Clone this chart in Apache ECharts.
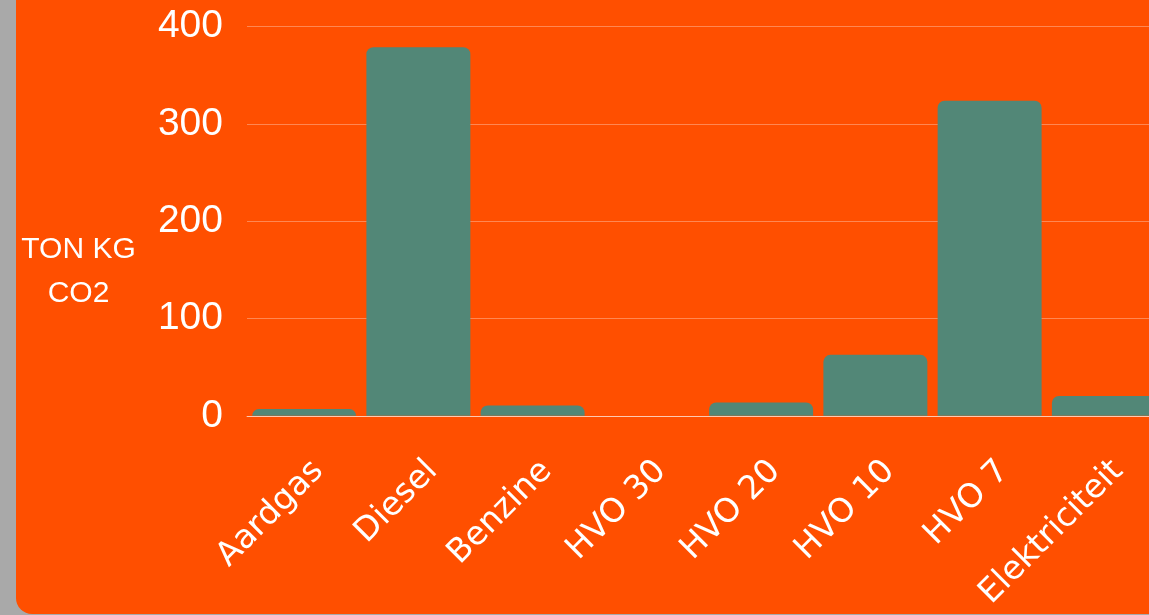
<!DOCTYPE html>
<html>
<head>
<meta charset="utf-8">
<script src="https://cdn.jsdelivr.net/npm/echarts@6/dist/echarts.min.js"></script>
<style>
  html, body { margin: 0; padding: 0; width: 1149px; height: 615px; overflow: hidden; background: #A9A9A9; }
  #panel { position: absolute; left: 16px; top: -20px; width: 1200px; height: 634px; background: #FF4F00; border-bottom-left-radius: 16px; }
  #chart { position: absolute; left: 0; top: 0; width: 1170px; height: 615px; }
</style>
</head>
<body>
<div id="panel"></div>
<div id="chart"></div>
<script>
const categories = ['Aardgas', 'Diesel', 'Benzine', 'HVO 30', 'HVO 20', 'HVO 10', 'HVO 7', 'Elektriciteit'];
const emissions = [6.9, 379, 10.6, 0, 13.7, 62.7, 324, 20.5];
const yTitleLines = ['TON KG', 'CO2'];

const titleFont = '30px "Liberation Sans", Arial, sans-serif';
const chart = echarts.init(document.getElementById('chart'), null, { renderer: 'canvas' });
chart.setOption({
  backgroundColor: 'transparent',
  animation: false,
  grid: { left: 247, right: 9, top: 26.7, bottom: 199, containLabel: false },
  graphic: yTitleLines.map((t, i) => ({
    type: 'text',
    x: 78.5, y: 250 + i * 44,
    style: { text: t, fill: '#ffffff', font: titleFont, align: 'center', verticalAlign: 'middle' }
  })),
  xAxis: {
    type: 'category',
    data: categories,
    axisTick: { show: false },
    axisLine: { show: true, lineStyle: { color: 'rgba(255,255,255,0.55)', width: 1 } },
    axisLabel: {
      interval: 0, rotate: 45, color: '#ffffff', fontSize: 33, lineHeight: 40,
      fontFamily: '"DejaVu Sans", sans-serif', margin: 36, verticalAlign: 'top'
    }
  },
  yAxis: {
    type: 'value', min: 0, max: 400, interval: 100,
    axisLine: { show: false }, axisTick: { show: false },
    splitLine: { lineStyle: { color: 'rgba(255,255,255,0.32)', width: 1 } },
    axisLabel: { color: '#ffffff', fontSize: 39, fontFamily: '"Liberation Sans", Arial, sans-serif', margin: 24 }
  },
  series: [{
    type: 'bar',
    data: emissions,
    barCategoryGap: '9%',
    itemStyle: { color: '#528777', borderRadius: [7, 7, 0, 0] }
  }]
});
</script>
</body>
</html>
